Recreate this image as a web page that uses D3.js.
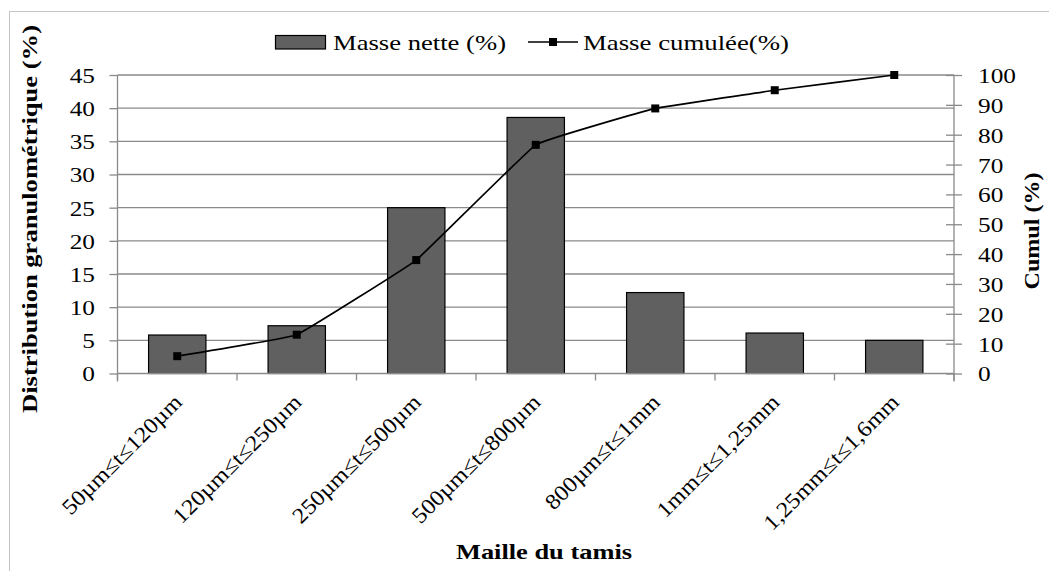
<!DOCTYPE html>
<html><head><meta charset="utf-8">
<script src="https://cdn.jsdelivr.net/npm/d3@7"></script>
</head><body style="margin:0">
<svg id="c" width="1049" height="571" font-family="Liberation Serif"></svg>
<script>
const categories = ["50µm≤t≤120µm","120µm≤t≤250µm","250µm≤t≤500µm","500µm≤t≤800µm","800µm≤t≤1mm","1mm≤t≤1,25mm","1,25mm≤t≤1,6mm"];
const masseNette = [5.8, 7.2, 25.0, 38.6, 12.2, 6.1, 5.0];
const masseCumulee = [5.8, 13.0, 38.0, 76.6, 88.8, 94.9, 100];
const leftTicks = [0,5,10,15,20,25,30,35,40,45];
const rightTicks = [0,10,20,30,40,50,60,70,80,90,100];
const seriesNames = ["Masse nette (%)", "Masse cumulée(%)"];
const xTitle = "Maille du tamis";
const yLeftTitle = "Distribution granulométrique (%)";
const yRightTitle = "Cumul (%)";

const SX = 1.15;
const svg = d3.select("#c");
const L = 117.5, R = 954, T = 75, B = 373.5;
const gridColor = "#8a8a8a";
const txt = (sel, size, bold) => sel.attr("style", `font-family:"Liberation Serif";font-size:${size}px;font-weight:${bold?'bold':'normal'};fill:#000`);

// frame
svg.append("rect").attr("x",9.5).attr("y",11.5).attr("width",1200).attr("height",700)
  .attr("fill","none").attr("stroke","#c4c4c4").attr("stroke-width",1);

const x = d3.scaleBand().domain(categories).range([L,R]).paddingInner(0.52).paddingOuter(0.26);
const xc = d3.scaleBand().domain(categories).range([L,R]);
const yL = d3.scaleLinear().domain([0,45]).range([B,T]);
const yR = d3.scaleLinear().domain([0,100]).range([B,T]);

// gridlines
svg.append("g").selectAll("line").data(leftTicks.filter(d=>d>0)).join("line")
  .attr("x1",L).attr("x2",R).attr("y1",d=>yL(d)).attr("y2",d=>yL(d))
  .attr("stroke",gridColor).attr("stroke-width",1.3);

// bars
svg.append("g").selectAll("rect").data(masseNette).join("rect")
  .attr("x",(d,i)=>x(categories[i])).attr("width",x.bandwidth())
  .attr("y",d=>yL(d)).attr("height",d=>yL(0)-yL(d))
  .attr("fill","#606060").attr("stroke","#000").attr("stroke-width",1.2);

// left axis
const gl = svg.append("g").attr("transform",`translate(${L},0)`)
  .call(d3.axisLeft(yL).tickValues(leftTicks).tickSize(8));
gl.attr("font-family", "Liberation Serif").attr("font-size", 22);
gl.select(".domain").attr("stroke",gridColor).attr("stroke-width",1.3).attr("d",`M0,${T}V${B+8}`);
gl.selectAll(".tick line").attr("stroke",gridColor).attr("stroke-width",1.3);
txt(gl.selectAll(".tick text"), 22).attr("x",-22.5/SX).attr("dy","0.34em").attr("transform",`scale(${SX},1)`);

// right axis
const gr = svg.append("g").attr("transform",`translate(${R},0)`)
  .call(d3.axisRight(yR).tickValues(rightTicks).tickSize(8));
gr.attr("font-family", "Liberation Serif").attr("font-size", 22);
gr.select(".domain").attr("stroke",gridColor).attr("stroke-width",1.3).attr("d",`M0,${T}V${B+8}`);
gr.selectAll(".tick line").attr("stroke",gridColor).attr("stroke-width",1.3).attr("x1",-8);
txt(gr.selectAll(".tick text"), 22).attr("x",24/SX).attr("dy","0.34em").attr("transform",`scale(${SX},1)`);

// bottom axis
const gb = svg.append("g").attr("transform",`translate(0,${B})`)
  .call(d3.axisBottom(xc).tickSize(0).tickFormat(""));
gb.select(".domain").attr("stroke",gridColor).attr("stroke-width",1.3).attr("d",`M${L},0H${R}`);
svg.append("g").selectAll("line").data(d3.range(categories.length+1)).join("line")
  .attr("x1",i=>L+i*xc.step()).attr("x2",i=>L+i*xc.step()).attr("y1",B).attr("y2",B+7)
  .attr("stroke",gridColor).attr("stroke-width",1.3);

// x labels
txt(svg.append("g").selectAll("text").data(categories).join("text"), 22)
  .attr("transform",d=>`translate(${xc(d)+xc.bandwidth()/2+6},${B+30}) rotate(-45) scale(1.1,1)`)
  .attr("text-anchor","end").text(d=>d);

// line
const line = d3.line().x((d,i)=>xc(categories[i])+xc.bandwidth()/2).y(d=>yR(d)).curve(d3.curveCardinal.tension(0.8));
svg.append("path").datum(masseCumulee).attr("d",line).attr("fill","none").attr("stroke","#000").attr("stroke-width",1.7);
svg.append("g").selectAll("rect").data(masseCumulee).join("rect")
  .attr("x",(d,i)=>xc(categories[i])+xc.bandwidth()/2-4).attr("y",d=>yR(d)-4)
  .attr("width",8).attr("height",8).attr("fill","#000");

// legend
const lg = svg.append("g");
lg.append("rect").attr("x",275.5).attr("y",35.5).attr("width",50).attr("height",13.5)
  .attr("fill","#606060").attr("stroke","#000").attr("stroke-width",1.2);
txt(lg.append("text"), 22).attr("x",333).attr("y",50)
  .attr("textLength",173).attr("lengthAdjust","spacingAndGlyphs").text(seriesNames[0]);
lg.append("line").attr("x1",528).attr("x2",578).attr("y1",42).attr("y2",42).attr("stroke","#000").attr("stroke-width",1.7);
lg.append("rect").attr("x",549).attr("y",38).attr("width",8).attr("height",8).attr("fill","#000");
txt(lg.append("text"), 22).attr("x",583).attr("y",50)
  .attr("textLength",206).attr("lengthAdjust","spacingAndGlyphs").text(seriesNames[1]);

// titles
txt(svg.append("text"), 22, true).attr("x",544).attr("y",559).attr("text-anchor","middle")
  .attr("textLength",176).attr("lengthAdjust","spacingAndGlyphs").text(xTitle);
txt(svg.append("text"), 21, true).attr("transform","translate(37,219) rotate(-90)").attr("text-anchor","middle")
  .attr("textLength",388).attr("lengthAdjust","spacingAndGlyphs").text(yLeftTitle);
txt(svg.append("text"), 22, true).attr("transform","translate(1039,231) rotate(-90)").attr("text-anchor","middle")
  .attr("textLength",117).attr("lengthAdjust","spacingAndGlyphs").text(yRightTitle);
</script>
</body></html>
